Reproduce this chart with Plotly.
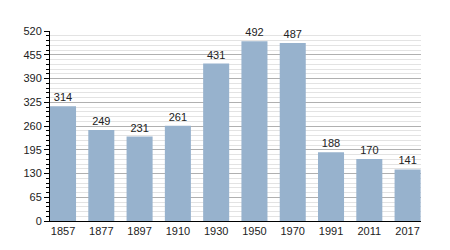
import plotly.graph_objects as go

years = ["1857", "1877", "1897", "1910", "1930", "1950", "1970", "1991", "2011", "2017"]
population = [314, 249, 231, 261, 431, 492, 487, 188, 170, 141]
y_ticks = [0, 65, 130, 195, 260, 325, 390, 455, 520]

x_pos = list(range(len(years)))

fig = go.Figure(
    go.Bar(
        x=x_pos,
        y=population,
        width=0.68,
        marker=dict(color="#97b2cd", line=dict(width=0)),
        text=[str(v) for v in population],
        textposition="outside",
        textfont=dict(size=11, color="#222222", family="Liberation Sans, Arial, sans-serif"),
        cliponaxis=False,
    )
)

fig.update_layout(
    width=450,
    height=250,
    margin=dict(l=50, r=29, t=31, b=29),
    paper_bgcolor="white",
    plot_bgcolor="white",
    showlegend=False,
    font=dict(family="Liberation Sans, Arial, sans-serif", size=11, color="#222222"),
    xaxis=dict(
        range=[-0.34, 9.35],
        tickmode="array",
        tickvals=x_pos,
        ticktext=years,
        showgrid=False,
        showline=True,
        linecolor="black",
        linewidth=1,
        ticks="",
        zeroline=False,
        tickfont=dict(size=11),
    ),
    yaxis=dict(
        range=[0, 520],
        tickmode="array",
        tickvals=y_ticks,
        showgrid=True,
        gridcolor="#b0b0b0",
        gridwidth=1,
        showline=True,
        linecolor="black",
        linewidth=1,
        ticks="outside",
        ticklen=5,
        tickcolor="black",
        zeroline=False,
        tickfont=dict(size=11),
        minor=dict(
            dtick=13,
            tick0=0,
            showgrid=True,
            gridcolor="#e3e3e3",
            gridwidth=1,
            ticks="outside",
            ticklen=3,
            tickcolor="black",
        ),
    ),
)

fig.write_html("out.html")
